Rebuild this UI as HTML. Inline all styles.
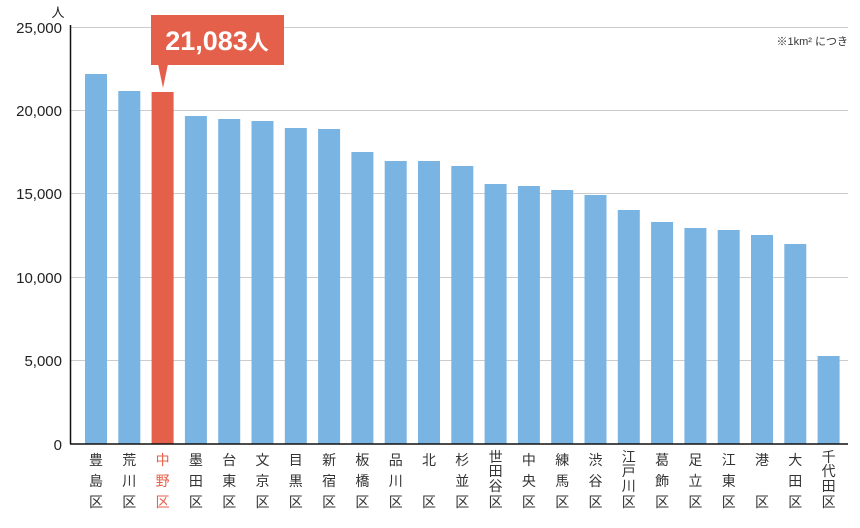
<!DOCTYPE html>
<html><head><meta charset="utf-8"><style>
body{margin:0;background:#fff;}
svg{display:block;font-family:"Liberation Sans","Noto Sans CJK JP",sans-serif;}
</style></head><body>
<svg width="860" height="528" viewBox="0 0 860 528">
<g stroke="#ccc" stroke-width="1">
<line x1="70" y1="27.5" x2="848" y2="27.5"/>
<line x1="70" y1="110.5" x2="848" y2="110.5"/>
<line x1="70" y1="193.5" x2="848" y2="193.5"/>
<line x1="70" y1="277.5" x2="848" y2="277.5"/>
<line x1="70" y1="360.5" x2="848" y2="360.5"/>
</g>
<g font-size="15" fill="#222" text-anchor="end">
<text x="62" y="33">25,000</text>
<text x="62" y="116">20,000</text>
<text x="62" y="199">15,000</text>
<text x="62" y="283">10,000</text>
<text x="62" y="366">5,000</text>
<text x="62" y="450">0</text>
</g>
<text x="58" y="17" font-size="13" fill="#222" text-anchor="middle">人</text>
<text x="848" y="45" font-size="11" fill="#333" text-anchor="end">※1km² につき</text>
<g fill="#7ab4e2">
<rect x="85" y="74" width="22" height="370"/>
<rect x="118.3" y="91" width="22" height="353"/>
<rect x="151.6" y="92" width="22" height="352" fill="#e5604a"/>
<rect x="184.9" y="116" width="22" height="328"/>
<rect x="218.2" y="119" width="22" height="325"/>
<rect x="251.5" y="121" width="22" height="323"/>
<rect x="284.8" y="128" width="22" height="316"/>
<rect x="318.1" y="129" width="22" height="315"/>
<rect x="351.4" y="152" width="22" height="292"/>
<rect x="384.7" y="161" width="22" height="283"/>
<rect x="418" y="161" width="22" height="283"/>
<rect x="451.3" y="166" width="22" height="278"/>
<rect x="484.6" y="184" width="22" height="260"/>
<rect x="517.9" y="186" width="22" height="258"/>
<rect x="551.2" y="190" width="22" height="254"/>
<rect x="584.5" y="195" width="22" height="249"/>
<rect x="617.8" y="210" width="22" height="234"/>
<rect x="651.1" y="222" width="22" height="222"/>
<rect x="684.4" y="228" width="22" height="216"/>
<rect x="717.7" y="230" width="22" height="214"/>
<rect x="751" y="235" width="22" height="209"/>
<rect x="784.3" y="244" width="22" height="200"/>
<rect x="817.6" y="356" width="22" height="88"/>
</g>
<line x1="70.5" y1="25" x2="70.5" y2="444" stroke="#111" stroke-width="1.5"/>
<line x1="70" y1="444" x2="848" y2="444" stroke="#111" stroke-width="1.5"/>
<g font-size="14" text-anchor="middle" fill="#333">
<text x="96" y="465">豊</text><text x="96" y="486">島</text><text x="96" y="507">区</text>
<text x="129.3" y="465">荒</text><text x="129.3" y="486">川</text><text x="129.3" y="507">区</text>
<g fill="#e5604a"><text x="162.6" y="465">中</text><text x="162.6" y="486">野</text><text x="162.6" y="507">区</text></g>
<text x="195.9" y="465">墨</text><text x="195.9" y="486">田</text><text x="195.9" y="507">区</text>
<text x="229.2" y="465">台</text><text x="229.2" y="486">東</text><text x="229.2" y="507">区</text>
<text x="262.5" y="465">文</text><text x="262.5" y="486">京</text><text x="262.5" y="507">区</text>
<text x="295.8" y="465">目</text><text x="295.8" y="486">黒</text><text x="295.8" y="507">区</text>
<text x="329.1" y="465">新</text><text x="329.1" y="486">宿</text><text x="329.1" y="507">区</text>
<text x="362.4" y="465">板</text><text x="362.4" y="486">橋</text><text x="362.4" y="507">区</text>
<text x="395.7" y="465">品</text><text x="395.7" y="486">川</text><text x="395.7" y="507">区</text>
<text x="429" y="465">北</text><text x="429" y="507">区</text>
<text x="462.3" y="465">杉</text><text x="462.3" y="486">並</text><text x="462.3" y="507">区</text>
<text x="495.6" y="462">世</text><text x="495.6" y="476">田</text><text x="495.6" y="491">谷</text><text x="495.6" y="507">区</text>
<text x="528.9" y="465">中</text><text x="528.9" y="486">央</text><text x="528.9" y="507">区</text>
<text x="562.2" y="465">練</text><text x="562.2" y="486">馬</text><text x="562.2" y="507">区</text>
<text x="595.5" y="465">渋</text><text x="595.5" y="486">谷</text><text x="595.5" y="507">区</text>
<text x="628.8" y="462">江</text><text x="628.8" y="476">戸</text><text x="628.8" y="491">川</text><text x="628.8" y="507">区</text>
<text x="662.1" y="465">葛</text><text x="662.1" y="486">飾</text><text x="662.1" y="507">区</text>
<text x="695.4" y="465">足</text><text x="695.4" y="486">立</text><text x="695.4" y="507">区</text>
<text x="728.7" y="465">江</text><text x="728.7" y="486">東</text><text x="728.7" y="507">区</text>
<text x="762" y="465">港</text><text x="762" y="507">区</text>
<text x="795.3" y="465">大</text><text x="795.3" y="486">田</text><text x="795.3" y="507">区</text>
<text x="828.6" y="462">千</text><text x="828.6" y="476">代</text><text x="828.6" y="491">田</text><text x="828.6" y="507">区</text>
</g>
<rect x="151" y="15" width="133" height="50" fill="#e5604a"/>
<polygon points="158,64 168,64 163,88" fill="#e5604a"/>
<text x="217" y="50" font-size="27" font-weight="bold" fill="#fff" text-anchor="middle">21,083<tspan font-size="21">人</tspan></text>
</svg>
</body></html>
